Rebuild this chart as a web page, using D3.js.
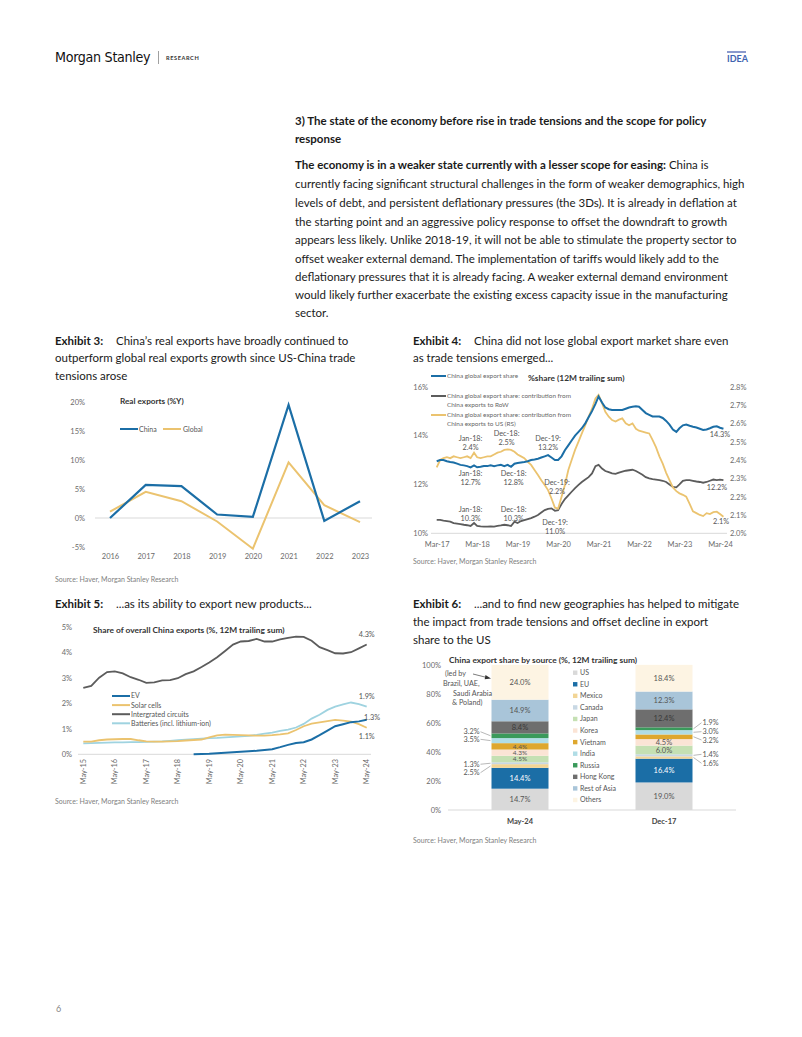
<!DOCTYPE html>
<html><head><meta charset="utf-8">
<script src="https://cdn.jsdelivr.net/npm/d3@7"></script>
<style>body{margin:0;background:#fff;}svg{display:block;}</style>
</head><body>
<svg id="page" width="802" height="1037"></svg>
<script>
// ================= DATA =================
// Exhibit 3: Real exports (%Y)
const ex3Years = ['2016','2017','2018','2019','2020','2021','2022','2023'];
const ex3China = [0.0, 5.7, 5.5, 0.6, 0.2, 19.5, -0.5, 2.9];
const ex3Global = [1.1, 4.5, 2.9, -0.6, -5.3, 9.6, 2.2, -0.7];
const ex3YTicks = [-5, 0, 5, 10, 15, 20];

// Exhibit 4: monthly, Mar-17 .. Apr-24
const ex4StartMonth = 'Mar-17';
const ex4ChinaShare = [12.95,13.0,13.0,12.95,12.92,12.9,12.85,12.8,12.78,12.75,
12.7,12.78,12.7,12.72,12.75,12.75,12.78,12.75,12.78,12.8,
12.75,12.8,12.72,12.85,12.88,12.9,12.92,12.95,13.0,13.02,
13.05,13.1,13.15,13.2,13.1,13.0,13.0,13.15,13.4,13.6,
13.8,14.0,14.15,14.3,14.5,14.75,15.0,15.3,15.6,15.35,
15.15,15.08,15.05,15.05,15.05,15.05,15.1,15.15,15.18,15.2,
15.18,15.05,14.92,14.85,14.78,14.78,14.78,14.72,14.6,14.45,
14.25,14.15,14.3,14.42,14.45,14.4,14.36,14.33,14.28,14.23,
14.25,14.3,14.36,14.38,14.32,14.28];
const ex4RoW = [10.55,10.55,10.52,10.5,10.48,10.42,10.4,10.38,10.35,10.33,
10.3,10.42,10.3,10.28,10.27,10.27,10.28,10.27,10.3,10.32,
10.35,10.33,10.3,10.48,10.42,10.5,10.54,10.58,10.62,10.68,
10.75,10.85,10.95,11.0,11.02,10.92,10.95,11.2,11.4,11.55,
11.7,11.85,11.98,12.1,12.2,12.3,12.45,12.75,12.8,12.65,
12.55,12.5,12.45,12.43,12.48,12.52,12.56,12.58,12.6,12.55,
12.48,12.4,12.3,12.25,12.22,12.2,12.18,12.15,12.1,12.0,
11.9,11.88,12.0,12.15,12.18,12.18,12.15,12.12,12.1,12.07,
12.1,12.15,12.2,12.18,12.2,12.18];
const ex4US = [2.36,2.40,2.41,2.415,2.41,2.42,2.415,2.41,2.415,2.42,
2.41,2.44,2.415,2.41,2.415,2.42,2.42,2.43,2.44,2.445,
2.455,2.458,2.455,2.445,2.43,2.42,2.41,2.39,2.373,2.345,
2.318,2.29,2.264,2.236,2.19,2.14,2.135,2.2,2.264,2.345,
2.4,2.455,2.5,2.545,2.59,2.636,2.68,2.736,2.755,2.71,
2.663,2.636,2.618,2.61,2.62,2.627,2.6,2.59,2.6,2.57,
2.56,2.555,2.55,2.545,2.51,2.47,2.42,2.38,2.33,2.29,
2.25,2.23,2.218,2.21,2.2,2.16,2.12,2.11,2.1,2.094,
2.11,2.105,2.115,2.118,2.105,2.09];
const ex4XTicks = ['Mar-17','Mar-18','Mar-19','Mar-20','Mar-21','Mar-22','Mar-23','Mar-24'];
const ex4LeftTicks = [10, 12, 14, 16];
const ex4RightTicks = [2.0, 2.1, 2.2, 2.3, 2.4, 2.5, 2.6, 2.7, 2.8];

// Exhibit 5: quarterly, May-15 .. May-24
const ex5StartMonth = 'May-15';
const ex5IC = [2.6,2.68,3.0,3.22,3.25,3.17,3.02,2.92,2.8,2.82,2.9,2.91,2.98,3.14,3.25,3.42,3.6,3.8,4.05,4.3,4.42,4.44,4.52,4.42,4.42,4.5,4.56,4.61,4.6,4.45,4.2,4.08,3.96,3.95,4.0,4.15,4.3];
const ex5Solar = [0.5,0.5,0.55,0.58,0.59,0.6,0.6,0.55,0.51,0.5,0.5,0.51,0.52,0.54,0.56,0.58,0.66,0.74,0.77,0.76,0.75,0.74,0.73,0.73,0.75,0.78,0.82,0.95,1.1,1.2,1.25,1.3,1.35,1.32,1.28,1.18,1.04];
const ex5Batteries = [0.43,0.44,0.45,0.46,0.47,0.47,0.48,0.48,0.49,0.5,0.51,0.53,0.55,0.57,0.59,0.61,0.63,0.64,0.66,0.68,0.7,0.72,0.76,0.81,0.85,0.92,0.97,1.05,1.19,1.4,1.55,1.74,1.87,1.96,2.03,1.97,1.87];
const ex5EV = [null,null,null,null,null,null,null,null,null,null,null,null,null,null,0.0,0.01,0.02,0.04,0.06,0.08,0.1,0.12,0.14,0.17,0.2,0.28,0.37,0.44,0.47,0.58,0.75,0.93,1.1,1.18,1.26,1.29,1.35];
const ex5XTicks = ['May-15','May-16','May-17','May-18','May-19','May-20','May-21','May-22','May-23','May-24'];
const ex5YTicks = [0,1,2,3,4,5];

// Exhibit 6: stacked shares
const ex6Bars = ['May-24','Dec-17'];
const ex6Keys = ['US','EU','Mexico','Canada','Japan','Korea','Vietnam','India','Russia','Hong Kong','Rest of Asia','Others'];
const ex6May24 = [14.7,14.4,2.5,1.3,4.5,4.3,4.4,3.5,3.2,8.4,14.9,24.0];
const ex6Dec17 = [19.0,16.4,1.6,1.4,6.0,4.5,3.2,3.0,1.9,12.4,12.3,18.4];
const ex6YTicks = [0,20,40,60,80,100];

// ================= DRAW =================
const FONT = 'Lato, "Open Sans", sans-serif';
const BLUE = '#1b6ea6', GOLD = '#ebc36f', DGRAY = '#5c5c5c', LBLUE = '#9fd3e0';
const AX = '#6b6b6b';
const svg = d3.select('#page').attr('font-family', FONT);
svg.append('rect').attr('width',802).attr('height',1037).attr('fill','#fff');

// header
const ms = svg.append('text').attr('x',55).attr('y',62).text('Morgan Stanley')
  .attr('font-family','"Liberation Sans Narrow","DejaVu Sans Condensed",sans-serif')
  .attr('font-size',15).attr('fill','#111').attr('letter-spacing',-0.3);
{ const w = ms.node().getBBox().width; if (w > 0) ms.attr('font-size', 15 * 96 / w); }
svg.append('line').attr('x1',158.5).attr('x2',158.5).attr('y1',51).attr('y2',64).attr('stroke','#888').attr('stroke-width',0.8);
svg.append('text').attr('x',166).attr('y',60).text('RESEARCH').attr('font-size',5.6).attr('font-weight','bold').attr('letter-spacing',0.6).attr('fill','#333');
svg.append('line').attr('x1',727).attr('x2',746).attr('y1',52).attr('y2',52).attr('stroke','#5a6fb8').attr('stroke-width',1.4);
svg.append('text').attr('x',727).attr('y',62).text('IDEA').attr('font-size',9).attr('font-weight','bold').attr('fill','#3f63b0');

// text helper
const textNodes = [];
function line(x, y, parts) {
  const t = svg.append('text').attr('x', x).attr('y', y).attr('fill', '#1a1a1a');
  parts.forEach(p => {
    const s = t.append('tspan').text(p.t);
    if (p.b) s.attr('font-weight','bold');
    if (p.x !== undefined) s.attr('x', p.x);
  });
  textNodes.push(t);
  return t;
}
line(295,124.5,[{t:'3) The state of the economy before rise in trade tensions and the scope for policy',b:1}]);
line(295,142.5,[{t:'response',b:1}]);
const bodyLines = [
 [{t:'The economy is in a weaker state currently with a lesser scope for easing:',b:1},{t:' China is'}],
 [{t:'currently facing significant structural challenges in the form of weaker demographics, high'}],
 [{t:'levels of debt, and persistent deflationary pressures (the 3Ds). It is already in deflation at'}],
 [{t:'the starting point and an aggressive policy response to offset the downdraft to growth'}],
 [{t:'appears less likely. Unlike 2018-19, it will not be able to stimulate the property sector to'}],
 [{t:'offset weaker external demand. The implementation of tariffs would likely add to the'}],
 [{t:'deflationary pressures that it is already facing. A weaker external demand environment'}],
 [{t:'would likely further exacerbate the existing excess capacity issue in the manufacturing'}],
 [{t:'sector.'}]];
const bodyY = [168.5,187.5,206.5,225.5,244,262.5,280.5,298.5,316.5];
const refLine = [];
bodyLines.forEach((p,i)=>{ const t=line(295, bodyY[i], p); if(i===1) refLine.push(t); });

line(55,344.5,[{t:'Exhibit 3:',b:1},{t:'China\u2019s real exports have broadly continued to',x:116}]);
line(55,362,[{t:'outperform global real exports growth since US-China trade'}]);
line(55,380,[{t:'tensions arose'}]);
line(413,344.5,[{t:'Exhibit 4:',b:1},{t:'China did not lose global export market share even',x:474}]);
line(413,362,[{t:'as trade tensions emerged...'}]);
line(55,607.5,[{t:'Exhibit 5:',b:1},{t:'...as its ability to export new products...',x:116}]);
line(413,607.5,[{t:'Exhibit 6:',b:1},{t:'...and to find new geographies has helped to mitigate',x:474}]);
line(413,625.5,[{t:'the impact from trade tensions and offset decline in export'}]);
line(413,643.5,[{t:'share to the US'}]);
// fit font size so the reference body line spans the column width
textNodes.forEach(t=>t.attr('font-size',12));
const w0 = refLine[0].node().getBBox().width;
const fs = 12 * 450 / w0;
textNodes.forEach(t=>t.attr('font-size',fs));

function source(x,y){ svg.append('text').attr('x',x).attr('y',y).text('Source: Haver, Morgan Stanley Research').attr('font-size',7).attr('fill','#808080'); }
source(55,582); source(413,564); source(55,804); source(413,843);
svg.append('text').attr('x',56).attr('y',1012).text('6').attr('font-size',9).attr('fill','#888');

function styleAxis(g, size, color){
  g.attr('font-family',FONT).attr('font-size',size).attr('color',color);
  g.select('.domain').remove(); g.selectAll('.tick line').remove();
}

// ---------- Exhibit 3 ----------
{
  const g = svg.append('g');
  const x = d3.scalePoint().domain(ex3Years).range([110,360]);
  const y = d3.scaleLinear().domain([-5,20]).range([547,402]);
  g.append('line').attr('x1',95).attr('x2',372).attr('y1',y(0)).attr('y2',y(0)).attr('stroke','#d9d9d9');
  g.append('g').attr('transform','translate(88,0)')
    .call(d3.axisLeft(y).tickValues(ex3YTicks).tickSize(0).tickPadding(3).tickFormat(d=>d+'%'))
    .call(a=>styleAxis(a,7.5,AX));
  g.append('g').attr('transform','translate(0,551)')
    .call(d3.axisBottom(x).tickSize(0).tickPadding(3))
    .call(a=>styleAxis(a,7.5,AX));
  const ln = d3.line().x((d,i)=>x(ex3Years[i])).y(d=>y(d));
  g.append('path').datum(ex3Global).attr('d',ln).attr('fill','none').attr('stroke',GOLD).attr('stroke-width',2);
  g.append('path').datum(ex3China).attr('d',ln).attr('fill','none').attr('stroke',BLUE).attr('stroke-width',2.2);
  g.append('text').attr('x',120).attr('y',404).text('Real exports (%Y)').attr('font-size',8.2).attr('font-weight','bold').attr('fill','#333');
  g.append('line').attr('x1',120).attr('x2',138).attr('y1',429).attr('y2',429).attr('stroke',BLUE).attr('stroke-width',2);
  g.append('text').attr('x',139).attr('y',431.5).text('China').attr('font-size',7).attr('fill','#555');
  g.append('line').attr('x1',163).attr('x2',181).attr('y1',429).attr('y2',429).attr('stroke',GOLD).attr('stroke-width',2);
  g.append('text').attr('x',183).attr('y',431.5).text('Global').attr('font-size',7).attr('fill','#555');
}

// ---------- Exhibit 4 ----------
{
  const g = svg.append('g');
  const parse = d3.timeParse('%b-%y');
  const start = parse(ex4StartMonth);
  const dates = ex4ChinaShare.map((_,i)=>d3.timeMonth.offset(start,i));
  const x = d3.scaleTime().domain([parse('Mar-17'), parse('Mar-24')]).range([436.7,720]);
  const yL = d3.scaleLinear().domain([10,16]).range([533.3,386.7]);
  const yR = d3.scaleLinear().domain([2.0,2.8]).range([533.3,386.7]);
  g.append('line').attr('x1',431).attr('x2',727).attr('y1',yL(10)).attr('y2',yL(10)).attr('stroke','#d9d9d9');
  g.append('g').attr('transform','translate(430,0)')
    .call(d3.axisLeft(yL).tickValues(ex4LeftTicks).tickSize(0).tickPadding(2).tickFormat(d=>d+'%'))
    .call(a=>styleAxis(a,7.5,AX));
  g.append('g').attr('transform','translate(729,0)')
    .call(d3.axisRight(yR).tickValues(ex4RightTicks).tickSize(0).tickPadding(1).tickFormat(d=>d.toFixed(1)+'%'))
    .call(a=>styleAxis(a,7.5,AX));
  g.append('g').attr('transform','translate(0,539)')
    .call(d3.axisBottom(x).tickValues(ex4XTicks.map(parse)).tickSize(0).tickPadding(3).tickFormat(d3.timeFormat('%b-%y')))
    .call(a=>styleAxis(a,7.5,AX));
  const lnL = d3.line().x((d,i)=>x(dates[i])).y(d=>yL(d));
  const lnR = d3.line().x((d,i)=>x(dates[i])).y(d=>yR(d));
  g.append('path').datum(ex4RoW).attr('d',lnL).attr('fill','none').attr('stroke',DGRAY).attr('stroke-width',1.8);
  g.append('path').datum(ex4US).attr('d',lnR).attr('fill','none').attr('stroke',GOLD).attr('stroke-width',1.8);
  g.append('path').datum(ex4ChinaShare).attr('d',lnL).attr('fill','none').attr('stroke',BLUE).attr('stroke-width',2);
  // title + legend
  g.append('text').attr('x',528).attr('y',381).text('%share (12M trailing sum)').attr('font-size',8.4).attr('font-weight','bold').attr('fill','#333');
  const leg = [[BLUE,['China global export share'],376],
               [DGRAY,['China global export share: contribution from','China exports to RoW'],396],
               [GOLD,['China global export share: contribution from','China exports to US (RS)'],415]];
  leg.forEach(([c,ls,yy])=>{
    g.append('line').attr('x1',431).attr('x2',446).attr('y1',yy).attr('y2',yy).attr('stroke',c).attr('stroke-width',2);
    ls.forEach((s,k)=>g.append('text').attr('x',447).attr('y',yy+2.2+k*8.7).text(s).attr('font-size',6.4).attr('fill','#666'));
  });
  // annotations
  const ann = (dx, dy, l1, l2) => {
    g.append('text').attr('x',dx).attr('y',dy).attr('text-anchor','middle').attr('font-size',7.3).attr('fill','#555').text(l1);
    g.append('text').attr('x',dx).attr('y',dy+9).attr('text-anchor','middle').attr('font-size',7.3).attr('fill','#555').text(l2);
  };
  ann(x(parse('Jan-18')), 441, 'Jan-18:', '2.4%');
  ann(x(parse('Dec-18'))-1, 436, 'Dec-18:', '2.5%');
  ann(x(parse('Dec-19')), 441, 'Dec-19:', '13.2%');
  ann(x(parse('Jan-18')), 475.5, 'Jan-18:', '12.7%');
  ann(x(parse('Dec-18'))+6, 475.5, 'Dec-18:', '12.8%');
  ann(x(parse('Dec-19'))+9, 484.5, 'Dec-19:', '2.2%');
  ann(x(parse('Jan-18')), 512, 'Jan-18:', '10.3%');
  ann(x(parse('Dec-18'))+6, 512, 'Dec-18:', '10.3%');
  ann(x(parse('Dec-19'))+7, 524.5, 'Dec-19:', '11.0%');
  g.append('text').attr('x',720).attr('y',437).attr('text-anchor','middle').attr('font-size',7.3).attr('fill','#555').text('14.3%');
  g.append('text').attr('x',717).attr('y',490).attr('text-anchor','middle').attr('font-size',7.3).attr('fill','#555').text('12.2%');
  g.append('text').attr('x',721).attr('y',523.5).attr('text-anchor','middle').attr('font-size',7.3).attr('fill','#555').text('2.1%');
}

// ---------- Exhibit 5 ----------
{
  const g = svg.append('g');
  const parse = d3.timeParse('%b-%y');
  const start = parse(ex5StartMonth);
  const dates = ex5IC.map((_,i)=>d3.timeMonth.offset(start,3*i));
  const x = d3.scaleTime().domain([parse('May-15'), parse('May-24')]).range([83.3,366.7]);
  const y = d3.scaleLinear().domain([0,5]).range([754.3,626.7]);
  g.append('line').attr('x1',78).attr('x2',371).attr('y1',y(0)).attr('y2',y(0)).attr('stroke','#d9d9d9');
  g.append('g').attr('transform','translate(74,0)')
    .call(d3.axisLeft(y).tickValues(ex5YTicks).tickSize(0).tickPadding(2).tickFormat(d=>d+'%'))
    .call(a=>styleAxis(a,7.5,AX));
  ex5XTicks.forEach(s=>{
    g.append('text').attr('transform',`translate(${x(parse(s))},759) rotate(-90)`).attr('text-anchor','end')
      .attr('dy','0.35em').attr('font-size',7.3).attr('fill',AX).text(s);
  });
  const ln = d3.line().defined(d=>d!==null).x((d,i)=>x(dates[i])).y(d=>y(d));
  g.append('path').datum(ex5IC).attr('d',ln).attr('fill','none').attr('stroke',DGRAY).attr('stroke-width',1.8);
  g.append('path').datum(ex5Batteries).attr('d',ln).attr('fill','none').attr('stroke',LBLUE).attr('stroke-width',1.8);
  g.append('path').datum(ex5Solar).attr('d',ln).attr('fill','none').attr('stroke',GOLD).attr('stroke-width',1.8);
  g.append('path').datum(ex5EV).attr('d',ln).attr('fill','none').attr('stroke',BLUE).attr('stroke-width',2);
  g.append('text').attr('x',93).attr('y',633).text('Share of overall China exports (%, 12M trailing sum)').attr('font-size',8.4).attr('font-weight','bold').attr('fill','#333');
  const leg = [[BLUE,'EV'],[GOLD,'Solar cells'],[DGRAY,'Intergrated circuits'],[LBLUE,'Batteries (incl. lithium-ion)']];
  leg.forEach(([c,s],k)=>{
    const yy = 696 + k*9.1;
    g.append('line').attr('x1',112).attr('x2',130).attr('y1',yy).attr('y2',yy).attr('stroke',c).attr('stroke-width',2);
    g.append('text').attr('x',131).attr('y',yy+2.4).text(s).attr('font-size',7).attr('fill','#555');
  });
  [['4.3%',366.7,636.5],['1.9%',366.7,699],['1.3%',372,719.5],['1.1%',366.7,739]].forEach(([s,xx,yy])=>{
    g.append('text').attr('x',xx).attr('y',yy).attr('text-anchor','middle').attr('font-size',7.3).attr('fill','#555').text(s);
  });
}

// ---------- Exhibit 6 ----------
{
  const g = svg.append('g');
  const colors = ['#d9d9d9',BLUE,'#f2d595','#c8d8e4','#c5e0b3','#fbe4d5','#dea72e','#b0dde6','#3a9a5b','#6e6e6e','#a9c5d9','#fdf4e3'];
  const table = ex6Bars.map((b,i)=>{ const o={bar:b}; const vals = i===0?ex6May24:ex6Dec17; ex6Keys.forEach((k,j)=>o[k]=vals[j]); return o; });
  const series = d3.stack().keys(ex6Keys)(table);
  const x = d3.scalePoint().domain(ex6Bars).range([448,736]).padding(0.5);
  const y = d3.scaleLinear().domain([0,100]).range([810,665]);
  const bw = 57;
  g.append('line').attr('x1',448).attr('x2',736).attr('y1',y(0)).attr('y2',y(0)).attr('stroke','#d9d9d9');
  g.append('g').attr('transform','translate(443,0)')
    .call(d3.axisLeft(y).tickValues(ex6YTicks).tickSize(0).tickPadding(2).tickFormat(d=>d+'%'))
    .call(a=>styleAxis(a,7.5,AX));
  series.forEach((s,si)=>{
    g.selectAll(null).data(s).join('rect')
      .attr('x',d=>x(d.data.bar)-bw/2).attr('width',bw)
      .attr('y',d=>y(d[1])).attr('height',d=>y(d[0])-y(d[1]))
      .attr('fill',colors[si]);
  });
  const inside = {'May-24':['US','EU','Japan','Korea','Vietnam','Hong Kong','Rest of Asia','Others'],
                  'Dec-17':['US','EU','Japan','Korea','Hong Kong','Rest of Asia','Others']};
  const outsideOffset = {'May-24':{'Russia':-4,'India':-1.3,'Canada':1,'Mexico':6.7},
                         'Dec-17':{'Russia':-6,'India':-0.6,'Vietnam':3.2,'Canada':-1,'Mexico':5.8}};
  series.forEach((s,si)=>{
    s.forEach(d=>{
      const b = d.data.bar, k = s.key, v = d.data[k];
      const mid = y((d[0]+d[1])/2);
      const segH = y(d[0]) - y(d[1]);
      if (inside[b].includes(k)) {
        const tight = (b==='May-24' && segH < 7);
        g.append('text').attr('x',x(b)).attr('y',mid).attr('dy','0.35em').attr('text-anchor','middle')
          .attr('font-size', tight ? 6.5 : 7.5)
          .attr('fill', k==='EU' ? '#fff' : (k==='Hong Kong' ? '#3a3a3a' : '#555'))
          .text(v.toFixed(1)+'%');
      } else {
        const off = outsideOffset[b][k];
        const ly = mid + off;
        if (b==='May-24') {
          const ex = x(b)-bw/2;
          g.append('path').attr('d',`M${ex-11},${ly} L${ex-1},${mid}`).attr('stroke','#888').attr('stroke-width',0.6).attr('fill','none');
          g.append('text').attr('x',ex-12).attr('y',ly).attr('dy','0.35em').attr('text-anchor','end').attr('font-size',7.3).attr('fill','#555').text(v.toFixed(1)+'%');
        } else {
          const ex = x(b)+bw/2;
          g.append('path').attr('d',`M${ex+1},${mid} L${ex+9},${ly}`).attr('stroke','#888').attr('stroke-width',0.6).attr('fill','none');
          g.append('text').attr('x',ex+10).attr('y',ly).attr('dy','0.35em').attr('text-anchor','start').attr('font-size',7.3).attr('fill','#555').text(v.toFixed(1)+'%');
        }
      }
    });
  });
  ex6Bars.forEach(b=>g.append('text').attr('x',x(b)).attr('y',823.5).attr('text-anchor','middle').attr('font-size',7.5).attr('font-weight','bold').attr('fill','#444').text(b));
  g.append('text').attr('x',449).attr('y',663).text('China export share by source (%, 12M trailing sum)').attr('font-size',8.4).attr('font-weight','bold').attr('fill','#333');
  // legend
  ex6Keys.forEach((k,i)=>{
    const yy = 672.7 + i*11.57;
    g.append('rect').attr('x',573).attr('y',yy-2.2).attr('width',4.4).attr('height',4.4).attr('fill',colors[i]);
    g.append('text').attr('x',580).attr('y',yy).attr('dy','0.35em').attr('font-size',7).attr('fill','#555').text(k);
  });
  // note
  [['(led by',445,676],['Brazil, UAE,',443,685.5],['Saudi Arabia',453,695.5],['& Poland)',452,704.5]].forEach(([s,xx,yy])=>{
    g.append('text').attr('x',xx).attr('y',yy).attr('font-size',7.2).attr('fill','#555').text(s);
  });
  g.append('path').attr('d','M473,674 L488,677.8').attr('stroke','#444').attr('stroke-width',0.7);
  g.append('path').attr('d','M491,678.5 L485.5,675 L484.7,679.2 Z').attr('fill','#333');
}
</script>
</body></html>
